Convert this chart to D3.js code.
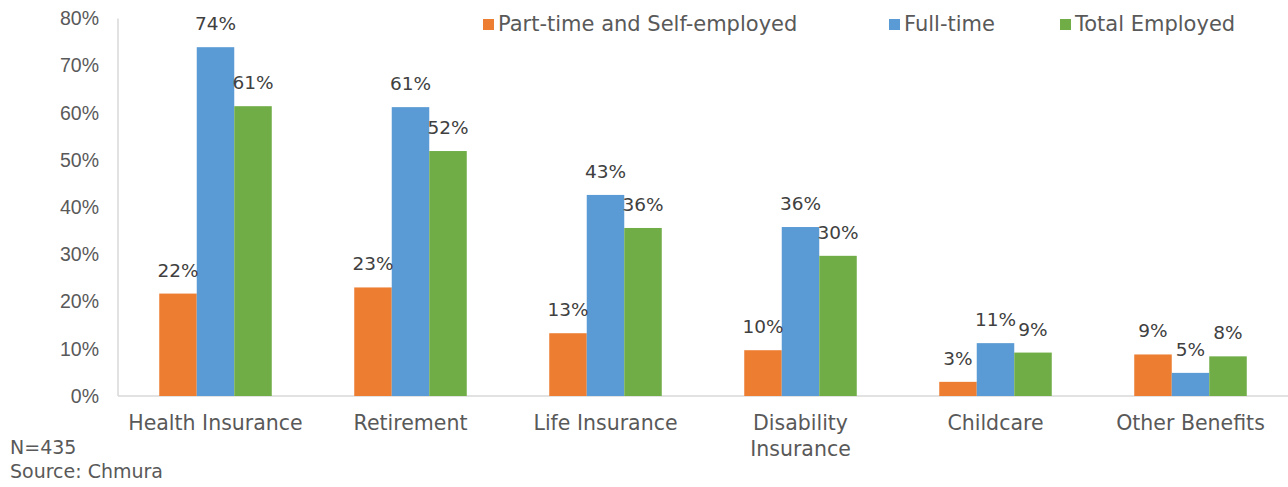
<!DOCTYPE html>
<html>
<head>
<meta charset="utf-8">
<script src="https://cdn.jsdelivr.net/npm/d3@7"></script>
<style>
  body { margin: 0; background: #fff; }
  svg { display: block; font-family: "DejaVu Sans", sans-serif; }
</style>
</head>
<body>
<div id="chart"></div>
<script>
// chart data
const categories = ["Health Insurance", "Retirement", "Life Insurance", "Disability Insurance", "Childcare", "Other Benefits"];
const seriesNames = ["Part-time and Self-employed", "Full-time", "Total Employed"];
const partTime = [0.217, 0.23, 0.133, 0.097, 0.03, 0.088];
const fullTime = [0.739, 0.612, 0.426, 0.358, 0.112, 0.049];
const totalEmployed = [0.614, 0.519, 0.356, 0.297, 0.092, 0.084];
const seriesLabels = [
  ["22%", "23%", "13%", "10%", "3%", "9%"],
  ["74%", "61%", "43%", "36%", "11%", "5%"],
  ["61%", "52%", "36%", "30%", "9%", "8%"]
];
const yTicks = [0, 0.1, 0.2, 0.3, 0.4, 0.5, 0.6, 0.7, 0.8];
const colors = ["#ED7D31", "#5B9BD5", "#70AD47"];
const notes = ["N=435", "Source: Chmura"];

const width = 1288, height = 487;
const margin = { top: 18.4, right: 0, bottom: 91, left: 118 };

const svg = d3.select("#chart")
  .append("svg")
  .attr("width", width)
  .attr("height", height);

const x = d3.scaleBand()
  .domain(categories)
  .range([margin.left, width - margin.right]);

const groupW = x.bandwidth() * 0.577;
const x1 = d3.scaleBand()
  .domain(seriesNames)
  .range([(x.bandwidth() - groupW) / 2, (x.bandwidth() + groupW) / 2]);

const y = d3.scaleLinear()
  .domain([0, 0.8])
  .range([height - margin.bottom, margin.top]);

// y axis labels (no gridlines)
const yAxis = svg.append("g")
  .attr("transform", `translate(${margin.left},0)`)
  .call(d3.axisLeft(y).tickValues(yTicks).tickSize(0).tickPadding(19).tickFormat(d3.format(".0%")));
yAxis.select(".domain").remove();
yAxis.selectAll("text")
  .attr("fill", "#595959")
  .style("font-size", "19.5px");

// axis lines
svg.append("line")
  .attr("x1", margin.left).attr("x2", margin.left)
  .attr("y1", y(0.8)).attr("y2", y(0))
  .attr("stroke", "#d9d9d9").attr("stroke-width", 1.5);
svg.append("line")
  .attr("x1", margin.left).attr("x2", width)
  .attr("y1", y(0)).attr("y2", y(0))
  .attr("stroke", "#d9d9d9").attr("stroke-width", 1.5);

// bars
const values = [partTime, fullTime, totalEmployed];
const rows = [];
values.forEach((vals, s) => {
  vals.forEach((v, i) => {
    rows.push({ cat: categories[i], series: seriesNames[s], s: s, value: v, label: seriesLabels[s][i] });
  });
});

svg.append("g")
  .selectAll("rect")
  .data(rows)
  .enter()
  .append("rect")
  .attr("x", d => x(d.cat) + x1(d.series))
  .attr("y", d => y(d.value))
  .attr("width", x1.bandwidth())
  .attr("height", d => y(0) - y(d.value))
  .attr("fill", d => colors[d.s]);

// data labels
svg.append("g")
  .selectAll("text")
  .data(rows)
  .enter()
  .append("text")
  .attr("x", d => x(d.cat) + x1(d.series) + x1.bandwidth() / 2)
  .attr("y", d => y(d.value) - 17)
  .attr("text-anchor", "middle")
  .attr("fill", "#404040")
  .style("font-size", "18.5px")
  .text(d => d.label);

// category labels, wrapped to band width
const catG = svg.append("g");
categories.forEach(c => {
  const cx = x(c) + x.bandwidth() / 2;
  const t = catG.append("text")
    .attr("x", cx)
    .attr("y", 430)
    .attr("text-anchor", "middle")
    .attr("fill", "#595959")
    .style("font-size", "20.5px");
  const words = c.split(" ");
  let line = [];
  let tspan = t.append("tspan").attr("x", cx).attr("dy", 0);
  words.forEach(w => {
    line.push(w);
    tspan.text(line.join(" "));
    if (tspan.node().getComputedTextLength() > x.bandwidth() - 4 && line.length > 1) {
      line.pop();
      tspan.text(line.join(" "));
      line = [w];
      tspan = t.append("tspan").attr("x", cx).attr("dy", 26).text(w);
    }
  });
});

// legend
const legendX = [483, 889, 1060];
const legend = svg.append("g");
seriesNames.forEach((name, i) => {
  legend.append("rect")
    .attr("x", legendX[i]).attr("y", 19)
    .attr("width", 11).attr("height", 11)
    .attr("fill", colors[i]);
  legend.append("text")
    .attr("x", legendX[i] + 15).attr("y", 31)
    .attr("fill", "#595959")
    .style("font-size", "21px")
    .text(name);
});

// notes
svg.append("g")
  .selectAll("text")
  .data(notes)
  .enter()
  .append("text")
  .attr("x", 10)
  .attr("y", (d, i) => 454 + i * 24)
  .attr("fill", "#595959")
  .style("font-size", "19px")
  .text(d => d);
</script>
</body>
</html>
